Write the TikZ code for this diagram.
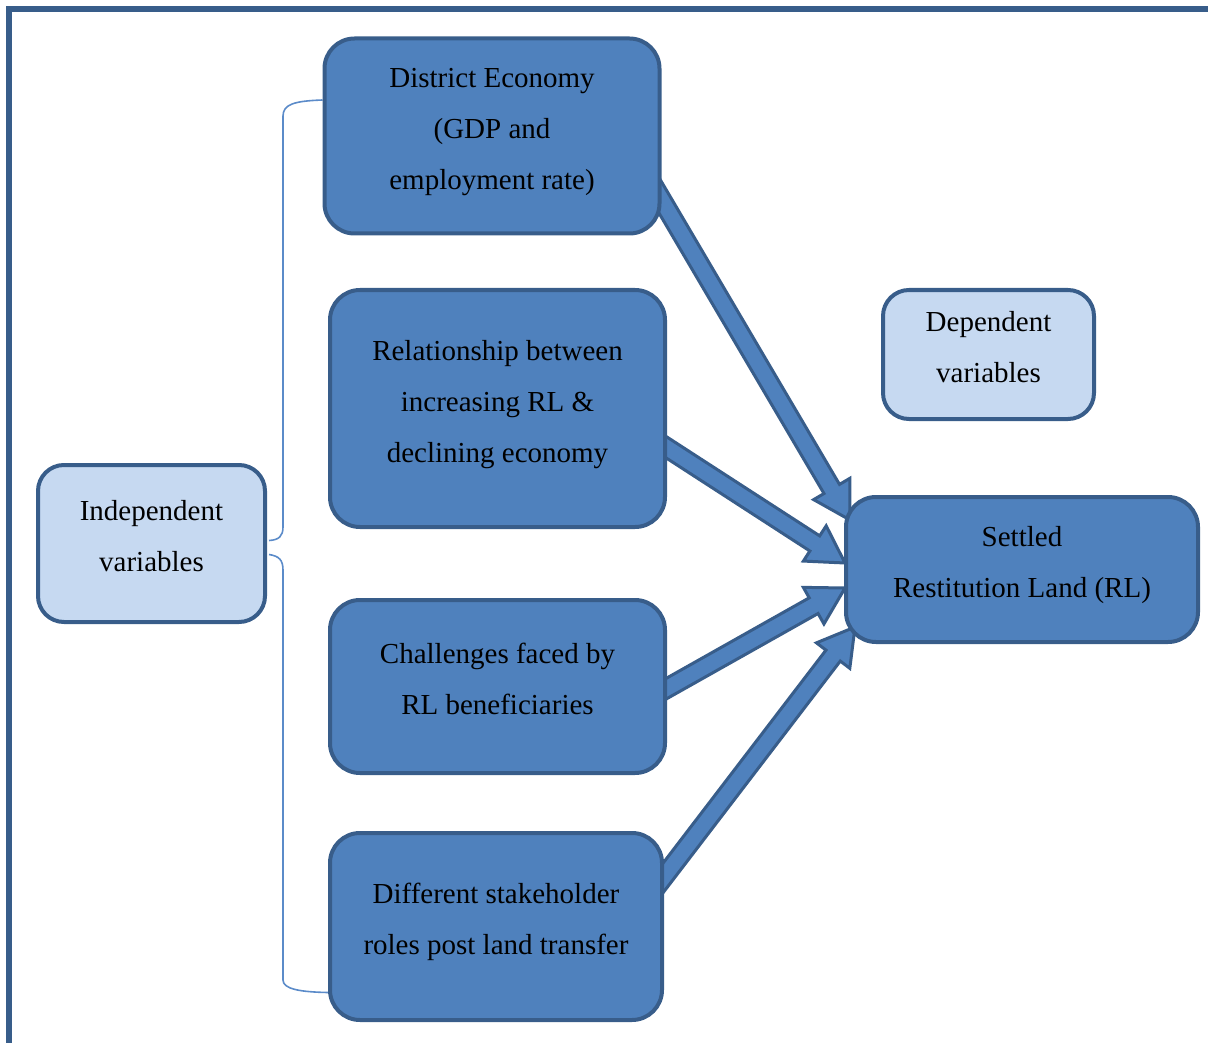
\documentclass[tikz,border=0pt]{standalone}
\usepackage{fontspec}
\setmainfont{Liberation Serif}
\usetikzlibrary{calc, backgrounds}
\definecolor{boxblue}{HTML}{4F81BD}
\definecolor{edgeblue}{HTML}{385D8A}
\definecolor{paleblue}{HTML}{C6D9F1}
\definecolor{bracketblue}{HTML}{5B8BC9}
\tikzstyle{factor} = [rectangle, rounded corners=30pt, draw=edgeblue, line width=4pt, fill=boxblue, text=black, align=center, font=\fontsize{29}{51}\selectfont, inner sep=0pt, text depth=15pt]
\tikzstyle{varbox} = [factor, fill=paleblue, rounded corners=26pt]
\tikzstyle{flow} = [draw=edgeblue, line width=3pt, fill=boxblue, line join=miter]
\tikzstyle{bracket} = [draw=bracketblue, line width=1.6pt]
\tikzstyle{frame} = [draw=edgeblue, line width=6pt]
% block arrow from #1 to #2
\newcommand{\blockarrow}[2]{%
  \draw[flow] ($(#1)!9pt!90:(#2)$)
    -- ($($(#2)!36pt!(#1)$)!9pt!-90:(#1)$)
    -- ($($(#2)!36pt!(#1)$)!21pt!-90:(#1)$)
    -- (#2)
    -- ($($(#2)!36pt!(#1)$)!21pt!90:(#1)$)
    -- ($($(#2)!36pt!(#1)$)!9pt!90:(#1)$)
    -- ($(#1)!9pt!-90:(#2)$) -- cycle;}

\begin{document}
\begin{tikzpicture}[x=1pt, y=-1pt]
\useasboundingbox (0,0) rectangle (1208,1043);
\draw[frame] (9,1100) -- (9,9) -- (1250,9);

\node (econ) [factor, minimum width=335pt, minimum height=195pt] at (492,136) {District Economy\\(GDP and\\employment rate)};
\node (relation) [factor, minimum width=335pt, minimum height=237pt] at (497.5,408.5) {Relationship between\\increasing RL \&\\declining economy};
\node (challenge) [factor, minimum width=335pt, minimum height=173pt] at (497.5,686.5) {Challenges faced by\\RL beneficiaries};
\node (stake) [factor, minimum width=332pt, minimum height=187pt] at (496,926.5) {Different stakeholder\\roles post land transfer};
\node (settled) [factor, minimum width=352pt, minimum height=145pt] at (1022,569.5) {Settled\\Restitution Land (RL)};
\node (dep) [varbox, minimum width=211pt, minimum height=129pt] at (988.5,354.5) {Dependent\\variables};
\node (indep) [varbox, minimum width=227pt, minimum height=157pt] at (151.5,543.5) {Independent\\variables};

\coordinate (s1) at (650,180);
\coordinate (t1) at (850,520);
\coordinate (s2) at (655,440);
\coordinate (t2) at (845,563);
\coordinate (s3) at (655,695);
\coordinate (t3) at (845,588);
\coordinate (s4) at (650,895);
\coordinate (t4) at (855,627);

\begin{scope}[on background layer]
\blockarrow{s1}{t1}
\blockarrow{s2}{t2}
\blockarrow{s3}{t3}
\blockarrow{s4}{t4}
\draw[bracket] ($(econ.west)+(0,-36)$) .. controls (295,101) and (283,104) .. (283,116) -- (283,527) .. controls (283,536) and (279,540) .. ($(indep.east)+(2,-3)$);
\draw[bracket] ($(indep.east)+(2,11)$) .. controls (279,556) and (283,560) .. (283,570) -- (283,980) .. controls (283,989) and (300,992) .. ($(stake.west)+(0,66)$);
\end{scope}

\end{tikzpicture}
\end{document}
